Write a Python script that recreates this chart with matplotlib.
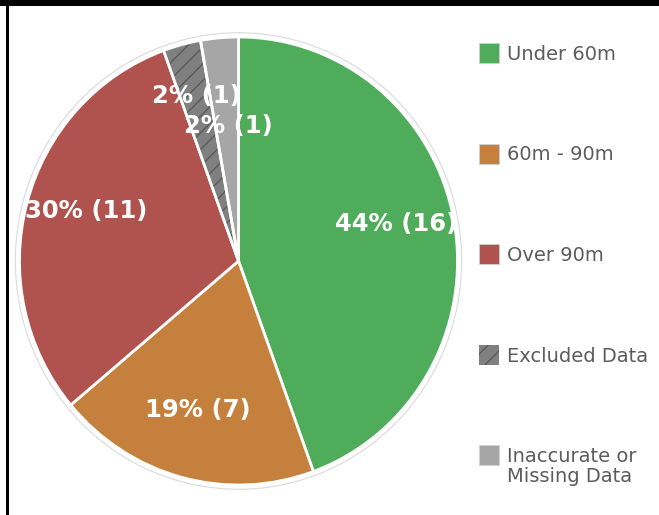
import numpy as np
import matplotlib
matplotlib.use('Agg')
from matplotlib import pyplot as plt
from matplotlib.patches import Wedge, Circle, Rectangle


categories = ['Under 60m', '60m - 90m', 'Over 90m', 'Excluded Data',
              'Inaccurate or\nMissing Data']
counts = [16, 7, 11, 1, 1]
pct_labels = ['44%', '19%', '30%', '2%', '2%']
colors = ['#4fac5b', '#c4803c', '#b0524e', '#808080', '#a6a6a6']


def main():
    W, H = 659, 515
    fig = plt.figure(figsize=(W / 100, H / 100), dpi=100)
    cx, cy, rx, ry = 238.5, 261, 219, 224
    m = 1.05
    ax = fig.add_axes([(cx - rx * m) / W, (H - cy - ry * m) / H,
                       2 * rx * m / W, 2 * ry * m / H])

    wedges, _ = ax.pie(counts, colors=colors, startangle=90, counterclock=False,
                       wedgeprops=dict(edgecolor='white', linewidth=2))
    ax.set_xlim(-m, m)
    ax.set_ylim(-m, m)
    ax.set_aspect('auto')
    ax.axis('off')

    # outer faint ring
    ax.add_patch(Circle((0, 0), 1.019, facecolor='none', edgecolor='#dadada',
                        linewidth=0.8, zorder=0))

    # hatch the excluded slice
    w = wedges[3]
    w.set_edgecolor('#5a5a5a')
    w.set_linewidth(0)
    w.set_hatch('//')
    ax.add_patch(Wedge(w.center, w.r, w.theta1, w.theta2, facecolor='none',
                       edgecolor='white', linewidth=2, zorder=w.get_zorder() + 1))

    # slice labels
    dists = [0.74, 0.69, 0.73, 0.76, 0.605]
    shifts = [3, -0.7, -2.7, -0.4, -0.6]
    for i, wd in enumerate(wedges):
        ang = np.deg2rad((wd.theta1 + wd.theta2) / 2 + shifts[i])
        ax.text(dists[i] * np.cos(ang), dists[i] * np.sin(ang),
                '{} ({})'.format(pct_labels[i], counts[i]),
                ha='center', va='center', color='white', fontsize=17.5,
                fontweight='bold', zorder=10)

    # legend, drawn by hand so the two-line entry lines up like the original
    for i, c in enumerate(colors):
        yc = 53 + 100.5 * i
        sq = Rectangle((479 / W, 1 - (yc + 10) / H), 20 / W, 20 / H,
                       transform=fig.transFigure, facecolor=c,
                       edgecolor='#d0d0d0', linewidth=0.6)
        if i == 3:
            sq.set_edgecolor('#5a5a5a')
            sq.set_linewidth(0)
            sq.set_hatch('//')
        fig.add_artist(sq)
        fig.text(507 / W, 1 - (yc - 8) / H, categories[i], ha='left', va='top',
                 fontsize=14, color='#5c5c5c', linespacing=1.08)

    # frame fragments
    fig.add_artist(Rectangle((0, 1 - 5.5 / H), 1, 5.5 / H, transform=fig.transFigure,
                             facecolor='black', edgecolor='none'))
    fig.add_artist(Rectangle((6 / W, 0), 2.5 / W, 1, transform=fig.transFigure,
                             facecolor='black', edgecolor='none'))

    fig.savefig('out.png', dpi=100)


if __name__ == '__main__':
    main()
